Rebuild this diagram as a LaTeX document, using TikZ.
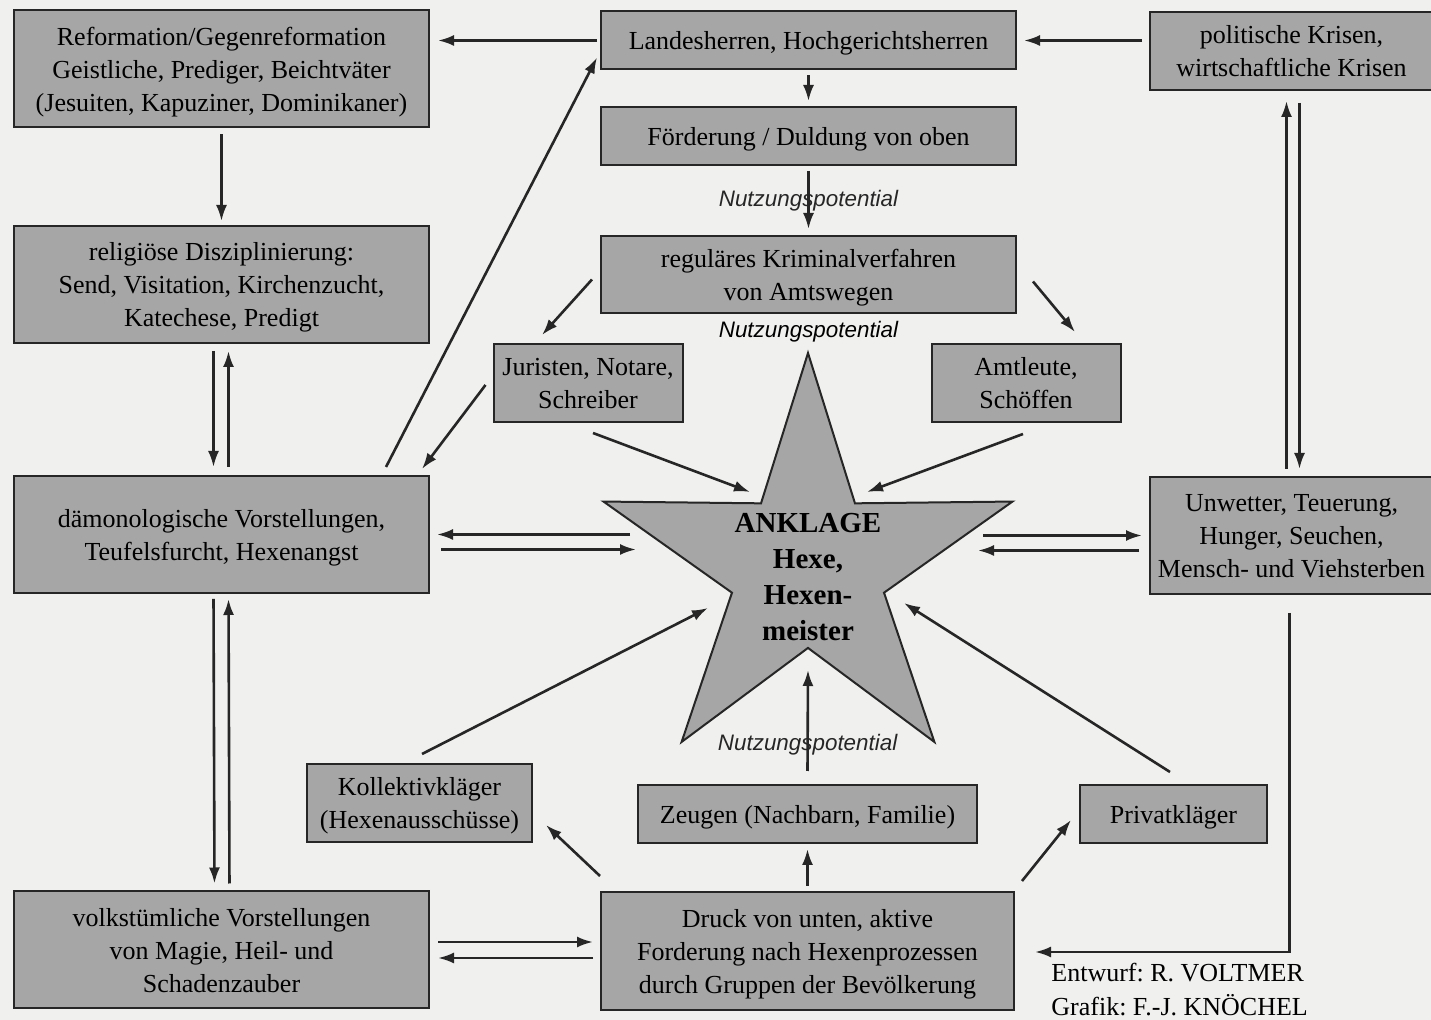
\documentclass[tikz,border=0pt]{standalone}
\usepackage{fontspec}
\setmainfont{Liberation Serif}
\newfontfamily\nutzfont{Liberation Sans}
\usepackage{tikz}
\usetikzlibrary{shapes, arrows.meta, calc}
\frenchspacing
\definecolor{boxgray}{RGB}{166,166,166}
\definecolor{paper}{RGB}{240,240,238}
\tikzstyle{block} = [rectangle, draw=black!85, line width=1pt, fill=boxgray,
    align=center, inner sep=0pt, text depth=0pt, font=\fontsize{13}{16.5}\selectfont]
\tikzstyle{bigblock} = [block, minimum width=207.5pt, minimum height=58.5pt]
\tikzstyle{flatblock} = [block, minimum width=207.5pt, minimum height=29pt]
\tikzstyle{smallblock} = [block, minimum width=94.5pt, minimum height=39pt]
\tikzstyle{sideblock} = [block, minimum width=141.5pt]
\tikzstyle{nutz} = [inner sep=0pt, font=\nutzfont\itshape\fontsize{11.2}{13}\selectfont]
\tikzstyle{credit} = [inner sep=0pt, align=left, font=\fontsize{13}{17}\selectfont]
\tikzstyle{line} = [draw, -{Latex[length=8pt, width=5.5pt]}, line width=1.3pt, black!85]

\begin{document}
\begin{tikzpicture}[x=0.5pt, y=-0.5pt, node distance=50pt]
        \path [use as bounding box, fill=paper] (0,0) rectangle (1431,1020);
        % Place nodes
        \node [bigblock] (ref) at (221.5,69)
            {Reformation/Gegenreformation\\Geistliche, Prediger, Beichtväter\\(Jesuiten, Kapuziner, Dominikaner)};
        \node [bigblock, below of=ref, node distance=107.75pt] (relig)
            {religiöse Disziplinierung:\\Send, Visitation, Kirchenzucht,\\Katechese, Predigt};
        \node [bigblock, below of=relig, node distance=125pt] (daemon)
            {dämonologische Vorstellungen,\\Teufelsfurcht, Hexenangst};
        \node [bigblock, below of=daemon, node distance=207.75pt] (volks)
            {volkstümliche Vorstellungen\\von Magie, Heil- und\\Schadenzauber};
        \node [flatblock] (land) at (808.5,40.5) {Landesherren, Hochgerichtsherren};
        \node [flatblock, below of=land, node distance=47.75pt] (foerd) {Förderung / Duldung von oben};
        \node [bigblock, below of=foerd, node distance=69.25pt, minimum height=38.5pt] (regul)
            {reguläres Kriminalverfahren\\von Amtswegen};
        \node [nutz, below of=regul, node distance=28.75pt] (nutz2) {Nutzungspotential};
        \node [smallblock] (jur) at (588,383) {Juristen, Notare,\\Schreiber};
        \node [smallblock, right of=jur, node distance=219pt] (amt) {Amtleute,\\Schöffen};
        \node [star, star points=5, star point ratio=2.69, minimum size=215pt, inner sep=0pt,
            draw=black!85, line width=1pt, fill=boxgray] (star) at (808,568) {};
        \node [align=center, inner sep=0pt, font=\bfseries\fontsize{14.5}{18}\selectfont,
            below of=star, node distance=4.5pt] (anklage) {ANKLAGE\\Hexe,\\Hexen-\\meister};
        \node [sideblock, minimum height=39pt] (krisen) at (1291.5,51)
            {politische Krisen,\\wirtschaftliche Krisen};
        \node [sideblock, minimum height=58.5pt, below of=krisen, node distance=242.25pt] (unw)
            {Unwetter, Teuerung,\\Hunger, Seuchen,\\Mensch- und Viehsterben};
        \node [bigblock, minimum width=206.5pt, minimum height=59pt] (druck) at (807.5,951)
            {Druck von unten, aktive\\Forderung nach Hexenprozessen\\durch Gruppen der Bevölkerung};
        \node [flatblock, minimum width=169.5pt, above of=druck, node distance=68.5pt] (zeug)
            {Zeugen (Nachbarn, Familie)};
        \node [smallblock, minimum width=112.5pt] (koll) at (419.5,803)
            {Kollektivkläger\\(Hexenausschüsse)};
        \node [smallblock, minimum width=93.5pt, minimum height=29pt, right of=zeug, node distance=183pt] (priv)
            {Privatkläger};
        \node [credit, anchor=west] (credit) at (1051,990) {Entwurf: R. VOLTMER\\Grafik: F.-J. KNÖCHEL};
        % Draw edges
        \path [line, shorten <=1.5pt, shorten >=4pt] (land.west) -- (ref.east |- land.west);
        \path [line, shorten <=3.5pt, shorten >=3.5pt] (krisen.west |- land.east) -- (land.east);
        \path [line, shorten <=2.5pt, shorten >=2.5pt] (land) -- (foerd);
        \path [line, shorten <=2.5pt, shorten >=3pt] (foerd) -- node [nutz] (nutz1) {Nutzungspotential} (regul);
        \path [line, shorten <=3pt, shorten >=2pt] (ref) -- (relig);
        \path [line, shorten <=3.5pt, shorten >=4pt] ($(relig.south)+(-8,0)$) -- ($(daemon.north)+(-8,0)$);
        \path [line, shorten <=4pt, shorten >=3.5pt] ($(daemon.north)+(7,0)$) -- ($(relig.south)+(7,0)$);
        \path [line, shorten <=2.5pt, shorten >=3.5pt] ($(daemon.south)+(-8,0)$) -- ($(volks.north)+(-7,0)$);
        \path [line, shorten <=3.5pt, shorten >=2.5pt] ($(volks.north)+(8,0)$) -- ($(daemon.south)+(7,0)$);
        \path [line, shorten <=3.5pt, shorten >=5pt] ($(unw.north)+(-5,0)$) -- ($(krisen.south)+(-5,0)$);
        \path [line, shorten <=6pt, shorten >=3.5pt] ($(krisen.south)+(8,0)$) -- ($(unw.north)+(8,0)$);
        \path [line] ($(regul.west)+(-8,5)$) -- ($(jur.north)+(-46,-8)$);
        \path [line] ($(regul.east)+(16,7)$) -- ($(amt.north)+(49,-11)$);
        \path [line] ($(jur.west)+(-7,2)$) -- ($(daemon.north east)+(-8,-6)$);
        \path [line] ($(daemon.north east)+(-44,-8)$) -- ($(land.south west)+(-3,-13)$);
        \path [line] ($(jur.south)+(5,10)$) -- ($(star.center)+(-58,-76)$);
        \path [line] ($(amt.south)+(-3,11)$) -- ($(star.center)+(59,-76)$);
        \path [line] ($(star.center |- daemon.east)+(-178,0)$) -- ($(daemon.east)+(7,0)$);
        \path [line] ($(daemon.east)+(11,15)$) -- ($(star.center |- daemon.east)+(-172,15)$);
        \path [line] ($(star.center |- unw.west)+(175,0)$) -- ($(unw.west)+(-7,0)$);
        \path [line] ($(unw.west)+(-10,15)$) -- ($(star.center |- unw.west)+(170,15)$);
        \path [line, shorten <=2.5pt, shorten >=2.5pt] (druck) -- (zeug);
        \path [line] ($(zeug.north)+(0,-13)$) -- node [nutz, pos=0.26] (nutz3) {Nutzungspotential} ($(star.center)+(0,102)$);
        \path [line] ($(druck.north west)+(0,-15)$) -- ($(koll.east)+(13,22)$);
        \path [line] ($(druck.north east)+(7,-10)$) -- ($(priv.west)+(-8,6)$);
        \path [line] ($(koll.north)+(2.5,-9)$) -- ($(star.center)+(-100,40)$);
        \path [line] ($(priv.north)+(-3.5,-12)$) -- ($(star.center)+(96,35)$);
        \path [line] ($(volks.east)+(8,-8)$) -- ($(druck.west)+(-7,-9)$);
        \path [line] ($(druck.west)+(-7,7)$) -- ($(volks.east)+(8,8)$);
        \path [line] ($(unw.south)+(-2,18)$) |- ($(druck.east)+(20,1)$);
    \end{tikzpicture}
\end{document}
